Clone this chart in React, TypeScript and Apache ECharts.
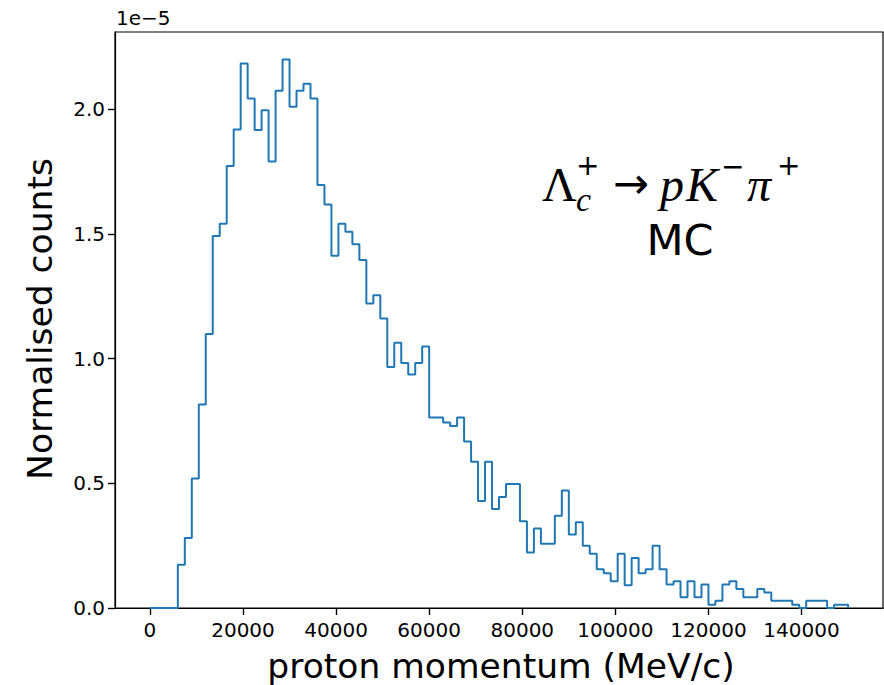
import React, { useEffect, useRef } from "react";
import * as echarts from "echarts";

// Histogram: proton momentum, 100 bins of 1500 MeV/c from 0 to 150000
const BIN_START = 0;
const BIN_WIDTH = 1500;
// normalised counts, in units of 1e-5
const counts: number[] = [
  0, 0, 0, 0, 0.173, 0.281, 0.519, 0.816, 1.099, 1.492,
  1.541, 1.773, 1.919, 2.184, 2.043, 1.917, 1.996, 1.791, 2.074, 2.2,
  2.01, 2.074, 2.102, 2.043, 1.696, 1.618, 1.413, 1.541, 1.509, 1.459,
  1.396, 1.221, 1.254, 1.161, 0.967, 1.064, 0.983, 0.936, 0.983, 1.049,
  0.764, 0.764, 0.744, 0.73, 0.764, 0.668, 0.587, 0.429, 0.587, 0.397,
  0.445, 0.497, 0.497, 0.348, 0.223, 0.319, 0.258, 0.258, 0.37, 0.471,
  0.295, 0.344, 0.25, 0.218, 0.155, 0.139, 0.107, 0.218, 0.091, 0.201,
  0.139, 0.155, 0.25, 0.155, 0.094, 0.107, 0.043, 0.107, 0.043, 0.094,
  0.013, 0.029, 0.094, 0.107, 0.076, 0.043, 0.043, 0.076, 0.062, 0.029,
  0.029, 0.029, 0.013, 0, 0.029, 0.029, 0.029, 0, 0.013, 0.013,
];
const xTicks: number[] = [0, 20000, 40000, 60000, 80000, 100000, 120000, 140000];
const yTicks: number[] = [0, 0.5, 1.0, 1.5, 2.0];
const X_MIN = -7500;
const X_MAX = 157500;
const Y_MIN = 0;
const Y_MAX = 2.31;
const Y_OFFSET_LABEL = "1e\u22125";
const X_TITLE = "proton momentum (MeV/c)";
const Y_TITLE = "Normalised counts";

const SANS = "'DejaVu Sans', sans-serif";
const SERIF = "'Liberation Serif', 'DejaVu Serif', serif";

export default function App() {
  const ref = useRef<HTMLDivElement>(null);
  useEffect(() => {
    if (!ref.current) return;
    const chart = echarts.init(ref.current, null, { renderer: "svg" });

    const pts: number[][] = [];
    counts.forEach((c, i) => {
      const x0 = BIN_START + i * BIN_WIDTH;
      const x1 = x0 + BIN_WIDTH;
      if (i === 0) pts.push([x0, 0]);
      pts.push([x0, c]);
      pts.push([x1, c]);
    });
    pts.push([BIN_START + counts.length * BIN_WIDTH, 0]);

    const mathText = (
      text: string,
      x: number,
      y: number,
      size: number,
      italic: boolean,
      family: string = SERIF
    ) => ({
      type: "text",
      x,
      y,
      style: {
        text,
        fontSize: size,
        fontFamily: family,
        fontStyle: italic ? "italic" : "normal",
        fill: "#000",
        align: "left",
        verticalAlign: "middle",
      },
    });

    const option: any = {
      animation: false,
      backgroundColor: "#fff",
      grid: {
        left: 115,
        top: 32,
        width: 768,
        height: 576,
        show: true,
        borderColor: "#000",
        borderWidth: 1.2,
        backgroundColor: "transparent",
        containLabel: false,
      },
      xAxis: {
        type: "value",
        min: X_MIN,
        max: X_MAX,
        splitLine: { show: false },
        axisLine: { show: true, onZero: false, lineStyle: { color: "#000", width: 1.2 } },
        axisTick: {
          show: true,
          customValues: xTicks,
          length: 7,
          lineStyle: { color: "#000", width: 1.4 },
        },
        axisLabel: {
          customValues: xTicks,
          color: "#000",
          fontSize: 20,
          fontFamily: SANS,
          margin: 12,
          formatter: (v: number) => String(v),
        },
      },
      yAxis: {
        type: "value",
        min: Y_MIN,
        max: Y_MAX,
        splitLine: { show: false },
        axisLine: { show: true, onZero: false, lineStyle: { color: "#000", width: 1.2 } },
        axisTick: {
          show: true,
          customValues: yTicks,
          length: 7,
          lineStyle: { color: "#000", width: 1.4 },
        },
        axisLabel: {
          customValues: yTicks,
          color: "#000",
          fontSize: 20,
          fontFamily: SANS,
          margin: 10,
          formatter: (v: number) => v.toFixed(1),
        },
      },
      series: [
        {
          type: "line",
          data: pts,
          showSymbol: false,
          symbol: "none",
          lineStyle: { color: "#1f77b4", width: 2 },
          itemStyle: { color: "#1f77b4" },
          clip: true,
          silent: true,
          z: 1,
        },
      ],
      graphic: [
        {
          type: "text",
          left: 116,
          top: 8,
          style: { text: Y_OFFSET_LABEL, fontSize: 20, fontFamily: SANS, fill: "#000" },
        },
        {
          type: "text",
          x: 501,
          y: 666,
          style: {
            text: X_TITLE,
            fontSize: 34.5,
            fontFamily: SANS,
            fill: "#000",
            align: "center",
            verticalAlign: "middle",
          },
        },
        {
          type: "text",
          x: 40,
          y: 319,
          rotation: Math.PI / 2,
          style: {
            text: Y_TITLE,
            fontSize: 34.5,
            fontFamily: SANS,
            fill: "#000",
            align: "center",
            verticalAlign: "middle",
          },
        },
        mathText("\u039B", 542, 184, 48, false),
        mathText("+", 576, 165, 28, false, SANS),
        mathText("c", 576, 199, 34, true),
        mathText("\u2192", 613, 183, 43, false, SANS),
        mathText("p", 660, 184, 48, true),
        mathText("K", 686, 184, 48, true),
        mathText("\u2212", 721, 166, 28, false, SANS),
        mathText("\u03C0", 747, 184, 48, true),
        mathText("+", 777, 165, 28, false, SANS),
        {
          type: "text",
          x: 680,
          y: 240,
          style: {
            text: "MC",
            fontSize: 43,
            fontFamily: SANS,
            fill: "#000",
            align: "center",
            verticalAlign: "middle",
          },
        },
      ],
    };
    chart.setOption(option);
    return () => chart.dispose();
  }, []);
  return (
    <div
      ref={ref}
      style={{ position: "fixed", left: 0, top: 0, width: 884, height: 685, background: "#fff" }}
    />
  );
}
